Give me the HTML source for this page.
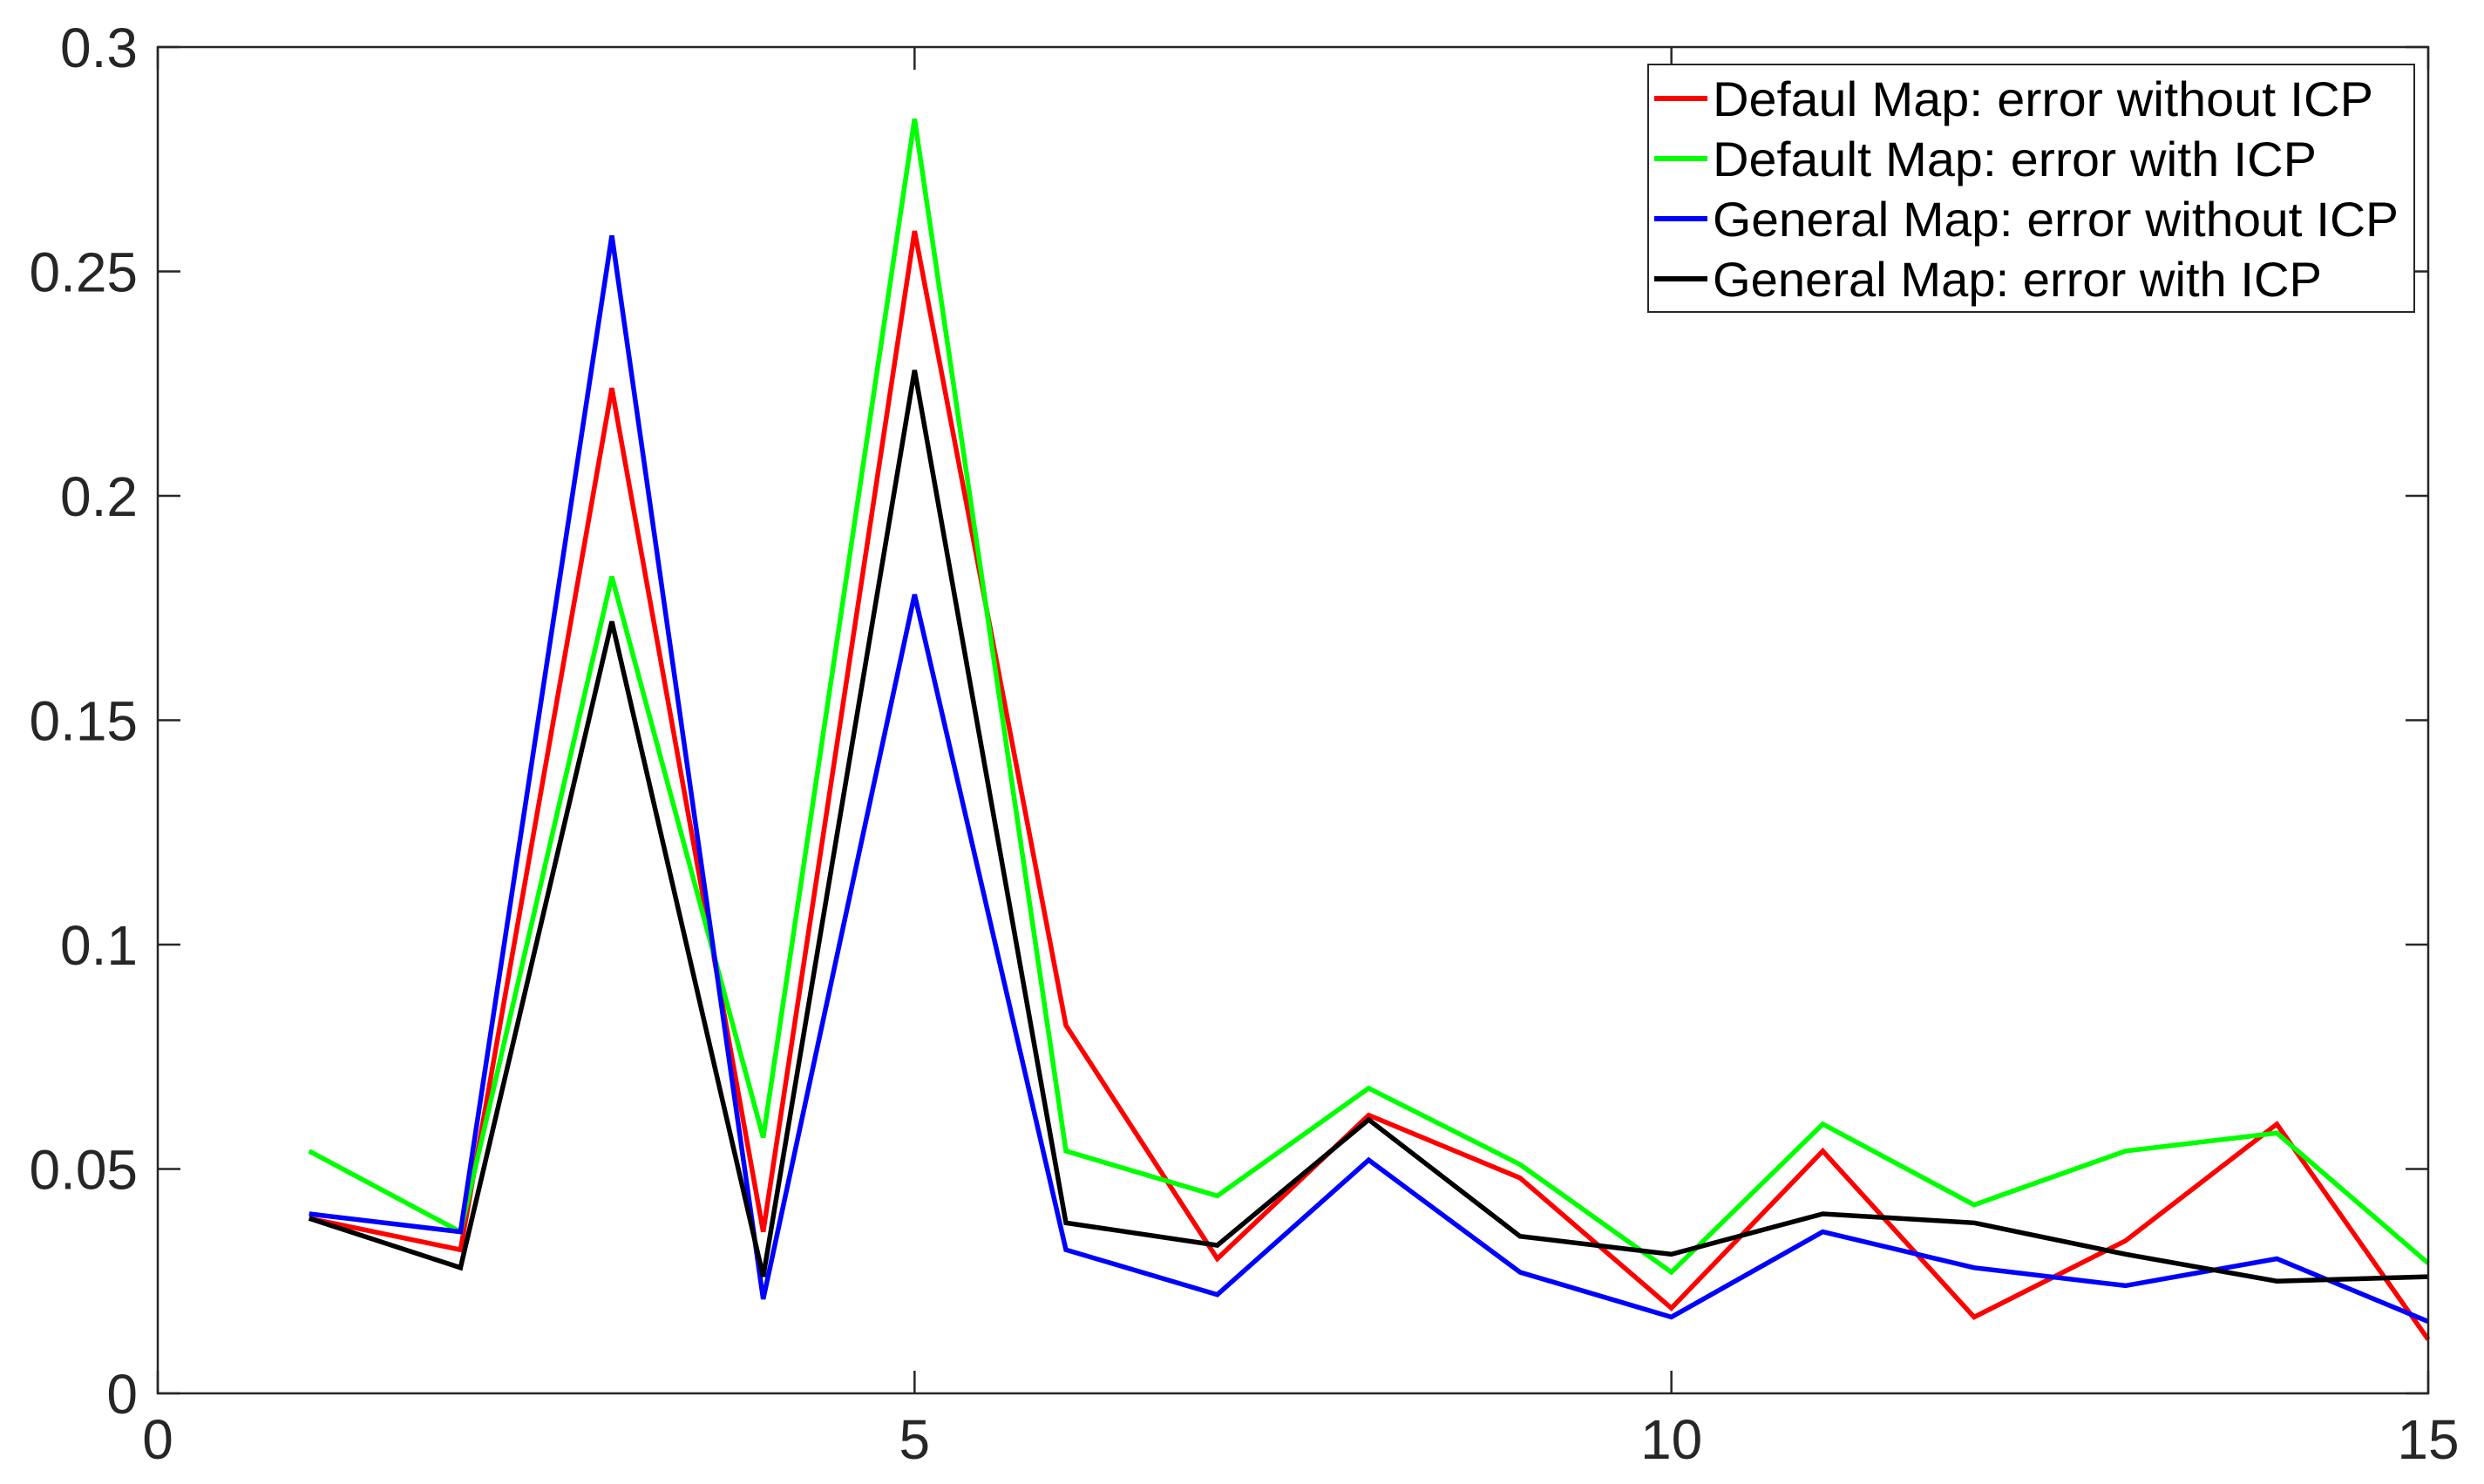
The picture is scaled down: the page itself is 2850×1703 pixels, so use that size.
<!DOCTYPE html>
<html><head><meta charset="utf-8"><style>
html,body{margin:0;padding:0;background:#fff;}
svg{display:block;font-family:"Liberation Sans",sans-serif;}
</style></head><body>
<svg id="chart" width="2850" height="1703" viewBox="0 0 2850 1703">
<rect x="0" y="0" width="2850" height="1703" fill="#fff"/>
<g id="plot"></g>
<g id="axes"></g>
<g id="legend"></g>
</svg>
<script>
const xs = [1,2,3,4,5,6,7,8,9,10,11,12,13,14,15];
const redVals = [0.039,0.032,0.224,0.036,0.259,0.082,0.030,0.062,0.048,0.019,0.054,0.017,0.034,0.060,0.012];
const greenVals = [0.054,0.036,0.182,0.057,0.284,0.054,0.044,0.068,0.051,0.027,0.060,0.042,0.054,0.058,0.029];
const blueVals = [0.040,0.036,0.258,0.021,0.178,0.032,0.022,0.052,0.027,0.017,0.036,0.028,0.024,0.030,0.016];
const blackVals = [0.039,0.028,0.172,0.026,0.228,0.038,0.033,0.061,0.035,0.031,0.040,0.038,0.031,0.025,0.026];
const seriesNames = ["Defaul Map: error without ICP","Default Map: error with ICP","General Map: error without ICP","General Map: error with ICP"];
const xTicks = [0,5,10,15];
const yTicks = [0,0.05,0.1,0.15,0.2,0.25,0.3];
const yTickLabels = ["0","0.05","0.1","0.15","0.2","0.25","0.3"];

const L=181,R=2786,T=54,B=1599;
const X=v=>L+(v-0)/15*(R-L);
const Y=v=>B-(v-0)/0.3*(B-T);
const NS="http://www.w3.org/2000/svg";
function mk(tag,attrs,parent){const e=document.createElementNS(NS,tag);for(const k in attrs)e.setAttribute(k,attrs[k]);parent.appendChild(e);return e;}
const plot=document.getElementById('plot'),axes=document.getElementById('axes'),leg=document.getElementById('legend');

const series=[[redVals,"#ff0000","red"],[greenVals,"#00ff00","green"],[blueVals,"#0000ff","blue"],[blackVals,"#000000","black"]];
series.forEach(([vals,col,nm])=>{
  const p=mk('polyline',{points:vals.map((v,i)=>X(xs[i])+","+Y(v)).join(" "),fill:"none",stroke:col,"stroke-width":5.5,"stroke-linejoin":"miter"},plot);
  
  
});

const box=mk('rect',{x:L,y:T,width:R-L,height:B-T,fill:"none",stroke:"#262626","stroke-width":2.5},axes);


xTicks.forEach(t=>{
  const x=X(t);
  mk('line',{x1:x,y1:B,x2:x,y2:B-26,stroke:"#262626","stroke-width":2.5},axes);
  mk('line',{x1:x,y1:T,x2:x,y2:T+26,stroke:"#262626","stroke-width":2.5},axes);
  const tx=mk('text',{x:x,y:1674,"text-anchor":"middle","font-size":64,fill:"#262626"},axes);
  tx.textContent=t;
  
  
});
yTicks.forEach((t,i)=>{
  const y=Y(t);
  mk('line',{x1:L,y1:y,x2:L+26,y2:y,stroke:"#262626","stroke-width":2.5},axes);
  mk('line',{x1:R,y1:y,x2:R-26,y2:y,stroke:"#262626","stroke-width":2.5},axes);
  const tx=mk('text',{x:158,y:y+23,"text-anchor":"end","font-size":64,fill:"#262626"},axes);
  tx.textContent=yTickLabels[i];
  
  
});

const lb=mk('rect',{x:1891,y:74,width:879,height:284,fill:"#fff",stroke:"#262626","stroke-width":2},leg);


const rows=[113,182,251,320];
const widths=[758,693,787,699];
series.forEach(([vals,col,nm],i)=>{
  const g=mk('g',{},leg);
  
  
  mk('line',{x1:1898,y1:rows[i],x2:1959,y2:rows[i],stroke:col,"stroke-width":6},g);
  const t=mk('text',{x:1965,y:rows[i]+20,"font-size":56,fill:"#000",textLength:widths[i],lengthAdjust:"spacingAndGlyphs"},g);
  t.textContent=seriesNames[i];
});
</script>
</body></html>
